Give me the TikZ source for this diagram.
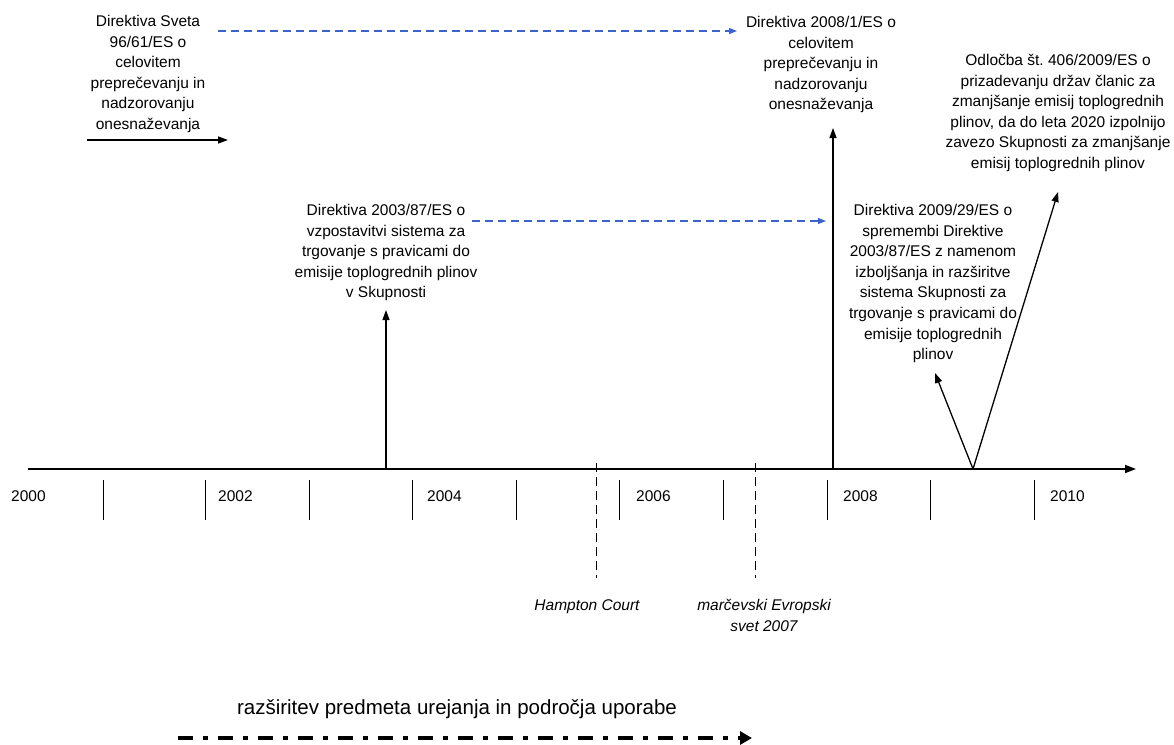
\documentclass[tikz,border=0pt]{standalone}
\usepackage{fontspec}
\setmainfont{Liberation Sans}
\usetikzlibrary{arrows.meta}
\definecolor{linkblue}{RGB}{60,100,200}
\frenchspacing
\begin{document}
\begin{tikzpicture}[x=1pt,y=-1pt,
  lbl/.style={align=center, inner sep=0pt, anchor=north,
              font=\fontsize{15.5}{20.6}\selectfont},
  evlbl/.style={lbl, font=\fontsize{15.5}{21.5}\selectfont\itshape},
  yr/.style={inner sep=0pt, anchor=west, font=\fontsize{15.5}{18}\selectfont},
  yeartick/.style={line width=0.9pt},
  up/.style={line width=1.3pt, -{Triangle[length=10pt,width=7pt]}},
  link/.style={linkblue, line width=1.1pt, dash pattern=on 8pt off 5pt,
               -{Triangle[length=8pt,width=6pt]}},
  event/.style={line width=0.9pt, dash pattern=on 9pt off 5pt},
  scopearrow/.style={line width=4.5pt, dash pattern=on 15pt off 10pt on 5pt off 10pt,
               -{Triangle[length=12pt,width=13pt]}},
  ]
\useasboundingbox (0,0) rectangle (1174,744);

% time axis
\coordinate (ax0) at (28,469);
\coordinate (ax1) at (1136,469);
\draw[line width=1.6pt, -{Triangle[length=11pt,width=8pt]}] (ax0) -- (ax1);

% year ticks
\foreach \x in {103,205,309,412,516,619,723,827,930,1034}
  \draw[yeartick] (\x,480) -- (\x,520);

% year labels
\foreach \y/\x in {2000/11,2002/218,2004/427,2006/636,2008/843,2010/1050}
  \node[yr] (y\y) at (\x,496) {\y};

% legislative acts
\node[lbl] (sveta) at (148,15)
  {Direktiva Sveta\\96/61/ES o\\celovitem\\preprečevanju in\\nadzorovanju\\onesnaževanja};
\node[lbl] (d2008) at (821,16)
  {Direktiva 2008/1/ES o\\celovitem\\preprečevanju in\\nadzorovanju\\onesnaževanja};
\node[lbl] (odl) at (1058,54)
  {Odločba št. 406/2009/ES o\\prizadevanju držav članic za\\zmanjšanje emisij toplogrednih\\plinov, da do leta 2020 izpolnijo\\zavezo Skupnosti za zmanjšanje\\emisij toplogrednih plinov};
\node[lbl] (d2003) at (386,204)
  {Direktiva 2003/87/ES o\\vzpostavitvi sistema za\\trgovanje s pravicami do\\emisije toplogrednih plinov\\v Skupnosti};
\node[lbl] (d2009) at (933,204)
  {Direktiva 2009/29/ES o\\spremembi Direktive\\2003/87/ES z namenom\\izboljšanja in razširitve\\sistema Skupnosti za\\trgovanje s pravicami do\\emisije toplogrednih\\plinov};

% political events
\node[evlbl] (hampton) at (587,599) {Hampton Court};
\node[evlbl] (march) at (764,599) {marčevski Evropski\\svet 2007};

% arrow under the 1996 directive
\coordinate (sv0) at (87,140);
\coordinate (sv1) at (228,140);
\draw[up] (sv0) -- (sv1);

% replacement / amendment links
\coordinate (b0) at (218,31);
\coordinate (b1) at (737,31);
\draw[link] (b0) -- (b1);
\coordinate (c0) at (472,221);
\coordinate (c1) at (826,221);
\draw[link] (c0) -- (c1);

% arrows from the axis to the acts
\coordinate (t2003) at (386,469);
\coordinate (e2003) at (386,310);
\draw[up] (t2003) -- (e2003);
\coordinate (t2008) at (833,469);
\coordinate (e2008) at (833,128);
\draw[up] (t2008) -- (e2008);
\coordinate (t2009) at (973,469);
\coordinate (e2009a) at (935,373);
\coordinate (e2009b) at (1058,192);
\draw[up] (t2009) -- (e2009a);
\draw[up] (t2009) -- (e2009b);

% dashed markers of the events
\coordinate (h0) at (596,463);
\coordinate (h1) at (596,578);
\draw[event] (h0) -- (h1);
\coordinate (m0) at (755,463);
\coordinate (m1) at (755,578);
\draw[event] (m0) -- (m1);

% scope legend
\node[inner sep=0pt, anchor=north, font=\fontsize{20.5}{24}\selectfont] (scope) at (457,699)
  {razširitev predmeta urejanja in področja uporabe};
\coordinate (s0) at (178,738);
\coordinate (s1) at (752,738);
\draw[scopearrow] (s0) -- (s1);
\end{tikzpicture}
\end{document}
